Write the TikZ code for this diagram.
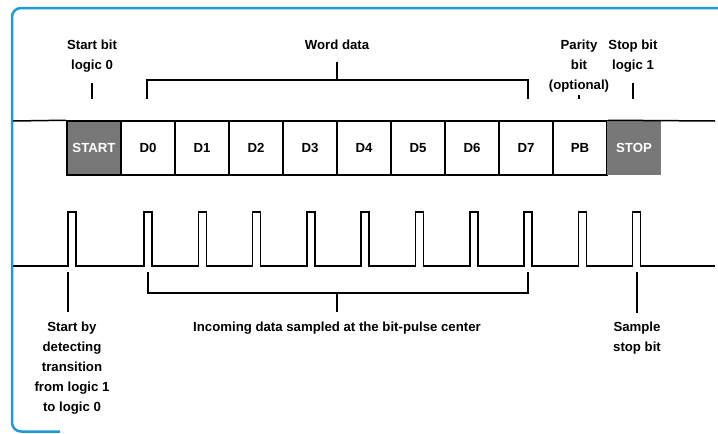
\documentclass[tikz,border=0pt]{standalone}
\usepackage{fontspec}
\setmainfont{Liberation Sans}
\definecolor{frameblue}{RGB}{30,155,215}
\definecolor{bitgray}{RGB}{120,120,120}

\begin{document}
\begin{tikzpicture}[x=1pt,y=-1pt,line width=1.5pt,
        font=\bfseries\fontsize{13.2}{20}\selectfont,
        cell/.style={draw,minimum width=54pt,minimum height=54pt,inner sep=0pt},
        graycell/.style={cell,fill=bitgray,text=white},
        note/.style={align=center,inner sep=0pt,anchor=north}]

        \useasboundingbox (0,0) rectangle (718,434);
        \draw[frameblue,line width=2.5pt,rounded corners=9pt] (725,8) -- (12,8) -- (12,431.5) -- (60,431.5);

        \node[graycell] (start) at (94,148) {START};
        \foreach \name [count=\i] in {D0,D1,D2,D3,D4,D5,D6,D7,PB}
            \node[cell] (\name) at (94+54*\i,148) {\name};
        \node[graycell,draw=none] (stop) at (634,148) {STOP};

        \coordinate (hiL) at (13,121);
        \coordinate (hiR) at (715,121);
        \draw (hiL) -- (start.north west);
        \draw (PB.north east) -- (hiR);

        \node[note] (startlbl)  at (92,39)  {Start bit\\logic 0};
        \node[note] (wordlbl)   at (337,39) {Word data};
        \node[note] (paritylbl) at (579,39) {Parity\\bit\\(optional)};
        \node[note] (stoplbl)   at (633,39) {Stop bit\\logic 1};

        \coordinate (startmark)  at (92,99);
        \coordinate (paritymark) at (579,99);
        \coordinate (stopmark)   at (633,99);
        \coordinate (wordL)   at (147,99);
        \coordinate (wordR)   at (528,99);
        \coordinate (wordmid) at (337,80);

        \draw[shorten <=10.6pt] (startlbl.south) -- (startmark);
        \draw[shorten <=2pt] (paritylbl.south) -- (paritymark);
        \draw[shorten <=10.6pt] (stoplbl.south) -- (stopmark);
        \draw (wordL) -- (wordL |- wordmid) -- (wordR |- wordmid) -- (wordR);
        \draw[shorten <=11.4pt] (wordlbl.south) -- (wordmid);

        \draw (13,266) -- (68,266) -- (68,212) -- (76,212) -- (76,266)
            \foreach \k in {0,...,9} {-- ({144+54.3*\k},266) -- ({144+54.3*\k},212)
            -- ({152+54.3*\k},212) -- ({152+54.3*\k},266)} -- (715,266);

        \node[note] (detectlbl)   at (72,321)  {Start by\\detecting\\transition\\from logic 1\\to logic 0};
        \node[note] (incominglbl) at (337,321) {Incoming data sampled at the bit-pulse center};
        \node[note] (samplelbl)   at (637,321) {Sample\\stop bit};

        \coordinate (detect) at (68,266);
        \coordinate (pstop)  at (637,266);
        \coordinate (inL)    at (148,272);
        \coordinate (inR)    at (528,272);
        \coordinate (inmid)  at (337,293);

        \draw[shorten <=6pt,shorten >=9pt] (detect) -- (detect |- detectlbl.north);
        \draw (inL) -- (inL |- inmid) -- (inR |- inmid) -- (inR);
        \draw[shorten >=9pt] (inmid) -- (incominglbl.north);
        \draw[shorten <=6pt,shorten >=8pt] (pstop) -- (samplelbl.north);

\end{tikzpicture}
\end{document}
